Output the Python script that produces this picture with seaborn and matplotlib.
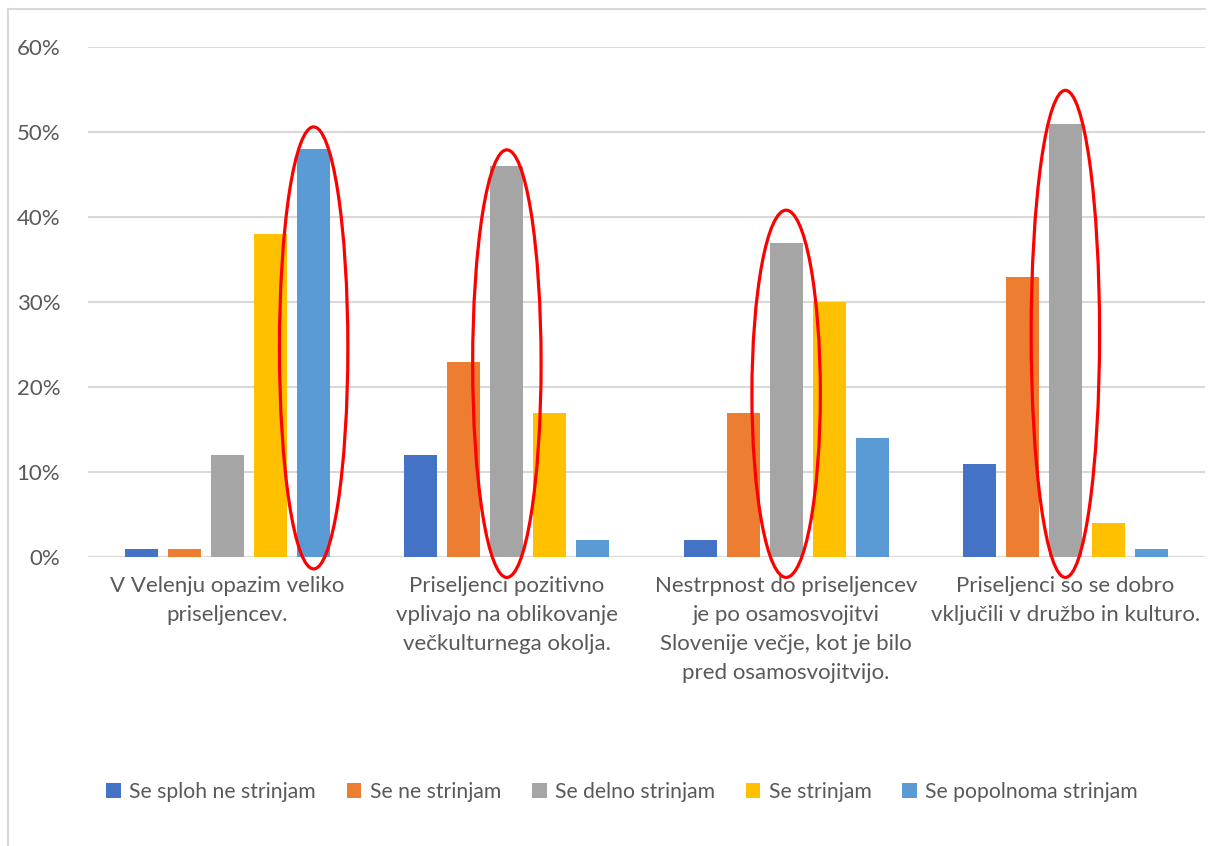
import matplotlib.pyplot as plt
import numpy as np
import pandas as pd
import seaborn as sns
from matplotlib.lines import Line2D
from matplotlib.patches import Ellipse, Patch
from matplotlib.ticker import PercentFormatter

# ── Podatki ──────────────────────────────────────────────────────
trditve = [
    "V Velenju opazim veliko\npriseljencev.",
    "Priseljenci pozitivno\nvplivajo na oblikovanje\nvečkulturnega okolja.",
    "Nestrpnost do priseljencev\nje po osamosvojitvi\nSlovenije večje, kot je bilo\npred osamosvojitvijo.",
    "Priseljenci so se dobro\nvključili v družbo in kulturo.",
]
odgovori = [
    "Se sploh ne strinjam",
    "Se ne strinjam",
    "Se delno strinjam",
    "Se strinjam",
    "Se popolnoma strinjam",
]
# deleži po odgovorih (vrstice) za vsako trditev (stolpci)
sploh_ne = [0.01, 0.12, 0.02, 0.11]
ne = [0.01, 0.23, 0.17, 0.33]
delno = [0.12, 0.46, 0.37, 0.51]
strinjam = [0.38, 0.17, 0.30, 0.04]
popolnoma = [0.48, 0.02, 0.14, 0.01]

# označeni stolpci (rdeče elipse): indeks odgovora ter zgornji/spodnji rob
oznaka_odgovor = [4, 2, 2, 2]
oznaka_vrh = [0.506, 0.479, 0.408, 0.549]
oznaka_dno = [-0.014, -0.024, -0.024, -0.024]

barve = ["#4472C4", "#ED7D31", "#A5A5A5", "#FFC000", "#5B9BD5"]
TEXT = "#595959"
GRID = "#D9D9D9"

vrednosti = [sploh_ne, ne, delno, strinjam, popolnoma]
df = pd.DataFrame(
    [
        {"trditev": t, "odgovor": o, "delez": vrednosti[j][i]}
        for j, o in enumerate(odgovori)
        for i, t in enumerate(trditve)
    ]
)

sns.set_style("white")
plt.rcParams["font.family"] = ["Lato", "DejaVu Sans"]

fig = plt.figure(figsize=(12.08, 8.46), dpi=100)
ax = fig.add_axes([88 / 1208, 1 - 557 / 846, (1205 - 88) / 1208, (557 - 47) / 846])

sns.barplot(
    data=df,
    x="trditev",
    y="delez",
    hue="odgovor",
    order=trditve,
    hue_order=odgovori,
    palette=barve,
    saturation=1,
    width=0.77,
    gap=0.23,
    errorbar=None,
    linewidth=0,
    ax=ax,
)
ax.get_legend().remove()

ax.set_xlim(-0.5, len(trditve) - 0.5)
ax.set_ylim(0, 0.6)
ax.set_yticks(np.arange(0, 0.61, 0.1))
ax.yaxis.set_major_formatter(PercentFormatter(1.0, decimals=0))
ax.grid(axis="y", color=GRID, linewidth=1.5)
ax.set_axisbelow(True)
for s in ax.spines.values():
    s.set_visible(False)
ax.axhline(0, color=GRID, linewidth=1.5, zorder=0.5)
ax.set_xlabel("")
ax.set_ylabel("")
ax.tick_params(axis="y", colors=TEXT, labelsize=16, length=0, pad=20)
ax.tick_params(axis="x", colors=TEXT, labelsize=16, length=0, pad=14)
for lab in ax.get_xticklabels():
    lab.set_linespacing(1.55)
    lab.set_verticalalignment("top")

# rdeče elipse okrog ključnih stolpcev
korak = 0.77 / len(odgovori)
for i in range(len(trditve)):
    xc = i + (oznaka_odgovor[i] - 2) * korak
    yc = (oznaka_vrh[i] + oznaka_dno[i]) / 2
    h = oznaka_vrh[i] - oznaka_dno[i]
    ax.add_patch(
        Ellipse(
            (xc, yc),
            width=0.245,
            height=h,
            fill=False,
            edgecolor="#FF0000",
            linewidth=2.3,
            clip_on=False,
            zorder=5,
        )
    )

# legenda
rocke = [Patch(facecolor=b, edgecolor="none") for b in barve]
fig.legend(
    rocke,
    odgovori,
    loc="center",
    bbox_to_anchor=(0.515, 1 - 792 / 846),
    ncol=5,
    frameon=False,
    fontsize=15.2,
    labelcolor=TEXT,
    handlelength=0.7,
    handleheight=0.7,
    handletextpad=0.4,
    columnspacing=1.45,
)

# okvir grafikona (levo in zgoraj)
fig.add_artist(Line2D([8 / 1208, 8 / 1208], [0, 1 - 9 / 846], color=GRID, linewidth=1.5))
fig.add_artist(Line2D([8 / 1208, 1205 / 1208], [1 - 9 / 846, 1 - 9 / 846], color=GRID, linewidth=1.5))

fig.savefig("out.png", dpi=100, facecolor="white")
